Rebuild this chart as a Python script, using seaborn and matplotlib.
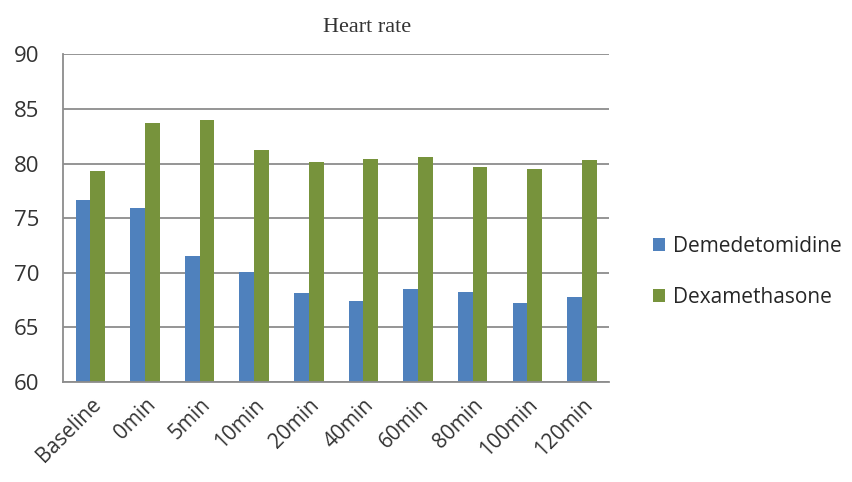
import pandas as pd
import matplotlib.pyplot as plt
import seaborn as sns

times = ['Baseline', '0min', '5min', '10min', '20min', '40min', '60min', '80min', '100min', '120min']
demedetomidine = [76.7, 75.9, 71.5, 70.1, 68.1, 67.4, 68.5, 68.2, 67.2, 67.8]
dexamethasone = [79.3, 83.7, 84.0, 81.2, 80.1, 80.4, 80.6, 79.7, 79.5, 80.3]
groups = ['Demedetomidine', 'Dexamethasone']

df = pd.DataFrame({
    'time': times * 2,
    'value': demedetomidine + dexamethasone,
    'group': [groups[0]] * len(times) + [groups[1]] * len(times),
})

sns.set_style('white')
plt.rcParams['font.family'] = ['Open Sans', 'DejaVu Sans']

fig = plt.figure(figsize=(8.52, 4.82), dpi=100)
ax = fig.add_axes([0.074, 0.208, 0.641, 0.679])

sns.barplot(data=df, x='time', y='value', hue='group', order=times, hue_order=groups,
            palette=['#4f81bd', '#77933c'], width=0.54, saturation=1,
            linewidth=0, ax=ax)

ax.set_ylim(60, 90)
ax.set_yticks(range(60, 91, 5))
ax.set_xlim(-0.5, len(times) - 0.5)
ax.yaxis.grid(True, color='#8c8c8c', linewidth=1.3)
ax.set_axisbelow(True)
for s in ['top', 'right']:
    ax.spines[s].set_visible(False)
for s in ['left', 'bottom']:
    ax.spines[s].set_color('#8c8c8c')
    ax.spines[s].set_linewidth(1.3)
ax.tick_params(length=0, colors='#333333')
ax.tick_params(axis='y', labelsize=16, pad=17)
ax.tick_params(axis='x', labelsize=15, pad=9)
plt.setp(ax.get_xticklabels(), rotation=45, ha='right', rotation_mode='anchor')
ax.set_xlabel('')
ax.set_ylabel('')

fig.text(0.431, 0.943, 'Heart rate', ha='center', va='center', fontsize=16,
         family='Liberation Serif', color='#333333')

ax.legend(loc='center left', bbox_to_anchor=(1.045, 0.335), frameon=False,
          fontsize=15, handlelength=0.6, handleheight=0.6, handletextpad=0.4,
          labelspacing=1.45)

fig.savefig('out.png', dpi=100)
